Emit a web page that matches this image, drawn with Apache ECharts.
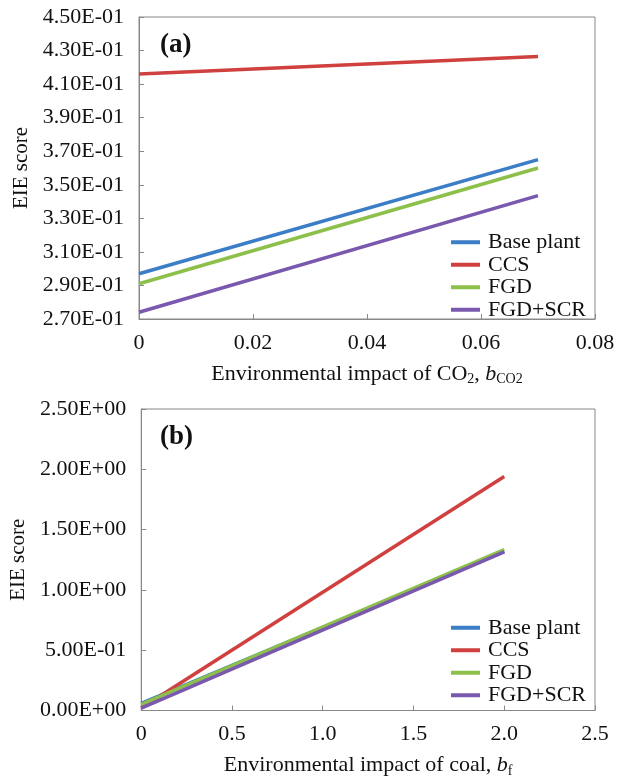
<!DOCTYPE html>
<html>
<head>
<meta charset="utf-8">
<script src="https://cdn.jsdelivr.net/npm/echarts@6/dist/echarts.min.js"></script>
<style>
html,body{margin:0;padding:0;background:#fff;}
#c{width:618px;height:779px;}
</style>
</head>
<body>
<div id="c"></div>
<script>
// ---- data ----
const seriesNames = ['Base plant', 'CCS', 'FGD', 'FGD+SCR'];
// panel (a): x = environmental impact of CO2
const xA = [0, 0.07];
const baseA = [0.297, 0.365];
const ccsA = [0.416, 0.4265];
const fgdA = [0.291, 0.360];
const scrA = [0.274, 0.3435];
const yTicksA = [0.27, 0.29, 0.31, 0.33, 0.35, 0.37, 0.39, 0.41, 0.43, 0.45];
const xTicksA = [0, 0.02, 0.04, 0.06, 0.08];
// panel (b): x = environmental impact of coal
const xB = [0, 2.0];
const baseB = [0.06, 1.32];
const ccsB = [0.02, 1.94];
const fgdB = [0.05, 1.335];
const scrB = [0.02, 1.315];
const yTicksB = [0, 0.5, 1.0, 1.5, 2.0, 2.5];
const xTicksB = [0, 0.5, 1.0, 1.5, 2.0, 2.5];

const colors = ['#3b7dc6', '#d0403f', '#8cc04b', '#7a58ad'];
const FONT = '"Liberation Serif", "Times New Roman", serif';
const TXT = '#111';

function sci(v) {
  const s = Number(v).toExponential(2);
  const parts = s.split('e');
  const e = parseInt(parts[1], 10);
  const sign = e < 0 ? '-' : '+';
  const d = Math.abs(e);
  return parts[0] + 'E' + sign + (d < 10 ? '0' : '') + d;
}
function pts(xs, ys) { return xs.map((x, i) => [x, ys[i]]); }

const chart = echarts.init(document.getElementById('c'), null, {renderer: 'canvas'});

const grids = [
  {left: 139, top: 17, width: 456, height: 302},
  {left: 139, top: 409, width: 456, height: 302}
];

function xAxis(idx, ticks, fmt, nameRich) {
  return {
    type: 'value', gridIndex: idx,
    min: ticks[0], max: ticks[ticks.length - 1], interval: ticks[1] - ticks[0],
    axisLine: {show: true, onZero: false, lineStyle: {color: '#888', width: 1}},
    axisTick: {show: true, inside: true, length: 5, lineStyle: {color: '#888'}},
    splitLine: {show: false},
    axisLabel: {color: TXT, fontFamily: FONT, fontSize: 22, margin: 13, formatter: fmt},
    name: nameRich, nameLocation: 'middle', nameGap: 43,
    nameTextStyle: {
      color: TXT, fontFamily: FONT, fontSize: 22,
      rich: {
        n: {fontFamily: FONT, fontSize: 22, color: TXT, lineHeight: 24},
        i: {fontFamily: FONT, fontSize: 22, color: TXT, fontStyle: 'italic', lineHeight: 24},
        s: {fontFamily: FONT, fontSize: 14, color: TXT, padding: [11, 0, 0, 0], lineHeight: 24}
      }
    }
  };
}
function yAxis(idx, ticks) {
  return {
    type: 'value', gridIndex: idx,
    min: ticks[0], max: ticks[ticks.length - 1],
    axisLine: {show: true, onZero: false, lineStyle: {color: '#888', width: 1}},
    axisTick: {show: true, inside: true, length: 5, lineStyle: {color: '#888'}, customValues: ticks},
    splitLine: {show: false},
    axisLabel: {color: TXT, fontFamily: FONT, fontSize: 22, margin: 15, formatter: sci, customValues: ticks},
    name: 'EIE score', nameLocation: 'middle', nameRotate: 90, nameGap: 107,
    nameTextStyle: {color: TXT, fontFamily: FONT, fontSize: 21}
  };
}

function legend(top) {
  return {
    data: seriesNames, orient: 'vertical', left: 446, top: top,
    icon: 'rect', itemWidth: 29, itemHeight: 4, itemGap: 0,
    selectedMode: false,
    textStyle: {color: TXT, fontFamily: FONT, fontSize: 22, lineHeight: 22.5, padding: [0, 0, 0, 3]}
  };
}

const datasetsA = [baseA, ccsA, fgdA, scrA];
const datasetsB = [baseB, ccsB, fgdB, scrB];
const series = [];
seriesNames.forEach((n, i) => {
  series.push({name: n, type: 'line', xAxisIndex: 0, yAxisIndex: 0, data: pts(xA, datasetsA[i]),
    showSymbol: false, symbol: 'none', lineStyle: {color: colors[i], width: 3.5}, itemStyle: {color: colors[i]}, silent: true});
});
seriesNames.forEach((n, i) => {
  series.push({name: n, type: 'line', xAxisIndex: 1, yAxisIndex: 1, data: pts(xB, datasetsB[i]),
    showSymbol: false, symbol: 'none', lineStyle: {color: colors[i], width: 3.5}, itemStyle: {color: colors[i]}, silent: true});
});

chart.setOption({
  animation: false,
  backgroundColor: '#fff',
  color: colors,
  grid: grids.map(g => Object.assign({show: true, borderColor: '#888', borderWidth: 1, backgroundColor: 'transparent'}, g)),
  title: [
    {text: '(a)', left: 155, top: 27, textStyle: {fontFamily: FONT, fontSize: 27, fontWeight: 'bold', color: TXT}},
    {text: '(b)', left: 155, top: 419, textStyle: {fontFamily: FONT, fontSize: 27, fontWeight: 'bold', color: TXT}}
  ],
  legend: [legend(226), legend(611.5)],
  xAxis: [
    xAxis(0, xTicksA, v => v === 0 ? '0' : String(+v.toFixed(2)), '{n|Environmental impact of CO}{s|2}{n|, }{i|b}{s|CO2}'),
    xAxis(1, xTicksB, v => v === 0 ? '0' : v.toFixed(1), '{n|Environmental impact of coal, }{i|b}{s|f}')
  ],
  yAxis: [yAxis(0, yTicksA), yAxis(1, yTicksB)],
  series: series
});
</script>
</body>
</html>
